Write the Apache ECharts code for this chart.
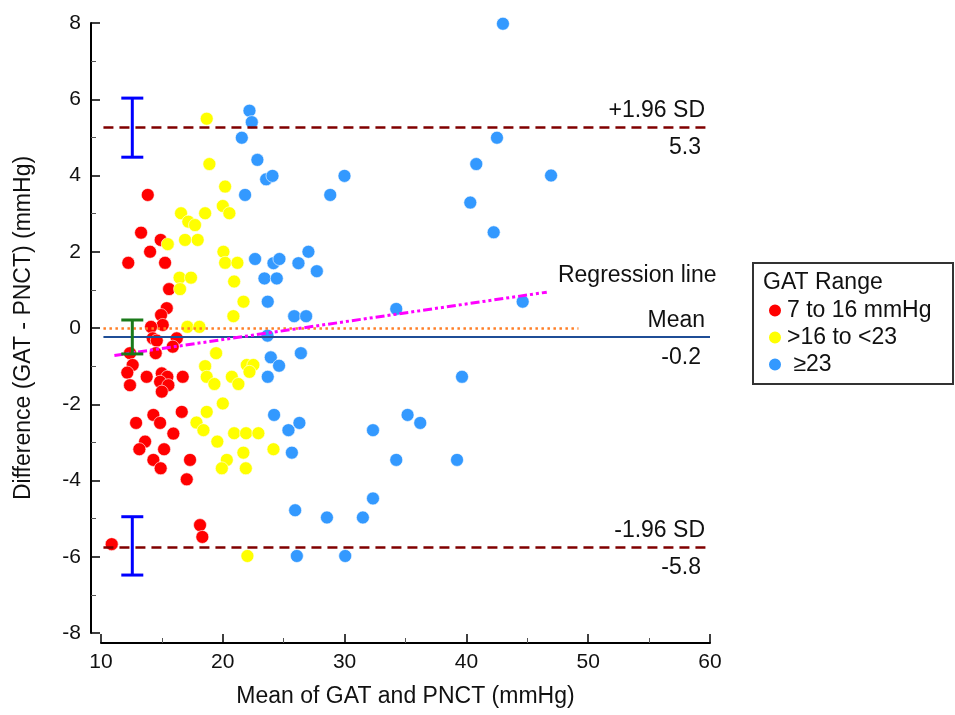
<!DOCTYPE html>
<html>
<head>
<meta charset="utf-8">
<script src="https://cdn.jsdelivr.net/npm/echarts@6/dist/echarts.min.js"></script>
<style>
html, body { margin: 0; padding: 0; background: #fff; }
#chart { width: 955px; height: 715px; }
</style>
</head>
<body>
<div id="chart"></div>
<script>
// GAT range groups: [mean of GAT and PNCT, difference GAT - PNCT]
const lowGat = [
  [13.84, 3.49], [13.29, 2.50], [14.9, 2.31], [14.03, 2.0], [12.24, 1.71], [15.26, 1.71],
  [15.59, 1.02], [15.4, 0.52], [14.93, 0.34], [15.07, 0.08], [14.11, 0.03], [14.25, -0.27],
  [14.58, -0.33], [16.22, -0.27], [15.89, -0.49], [14.49, -0.66], [12.38, -0.66], [12.6, -0.97],
  [12.16, -1.17], [12.38, -1.50], [13.75, -1.28], [14.99, -1.19], [15.45, -1.28], [14.85, -1.41],
  [15.53, -1.50], [14.99, -1.67], [16.71, -1.28], [12.88, -2.49], [14.3, -2.28], [14.85, -2.49],
  [16.63, -2.20], [15.94, -2.77], [13.62, -2.98], [13.15, -3.18], [15.18, -3.18], [14.3, -3.46],
  [14.9, -3.68], [17.31, -3.46], [17.04, -3.97], [18.13, -5.17], [18.32, -5.48], [10.88, -5.67]
]
const midGat = [
  [18.68, 5.49], [18.9, 4.30], [20.19, 3.71], [20.0, 3.20], [20.54, 3.01], [18.55, 3.01],
  [16.57, 3.01], [17.17, 2.79], [17.72, 2.70], [16.9, 2.31], [17.94, 2.31], [15.48, 2.20],
  [20.05, 2.0], [20.19, 1.71], [21.2, 1.71], [16.45, 1.32], [17.39, 1.32], [20.93, 1.22],
  [16.49, 1.02], [21.7, 0.69], [20.87, 0.31], [17.09, 0.03], [18.08, 0.03], [19.45, -0.66],
  [18.55, -1.0], [18.68, -1.28], [19.31, -1.47], [20.74, -1.28], [21.28, -1.47], [21.97, -0.97],
  [22.51, -0.97], [22.19, -1.15], [18.68, -2.20], [17.84, -2.48], [20.0, -1.98], [18.41, -2.68],
  [19.55, -2.98], [20.93, -2.76], [21.91, -2.76], [22.92, -2.76], [21.69, -3.27], [20.33, -3.46],
  [19.92, -3.68], [21.89, -3.68], [22.02, -5.98], [24.16, -3.18]
]
const highGat = [
  [22.19, 5.70], [22.38, 5.40], [21.56, 4.99], [22.84, 4.41], [23.56, 3.90], [24.08, 3.99],
  [29.99, 3.99], [28.82, 3.49], [21.83, 3.49], [22.65, 1.81], [24.16, 1.70], [24.65, 1.81],
  [26.21, 1.70], [27.03, 2.0], [27.72, 1.49], [23.42, 1.30], [24.43, 1.30], [23.69, 0.69],
  [25.86, 0.31], [26.84, 0.31], [23.67, -0.20], [26.41, -0.66], [23.94, -0.77], [24.62, -0.99],
  [23.69, -1.28], [24.21, -2.28], [25.39, -2.68], [26.29, -2.49], [25.67, -3.27], [32.33, -2.68],
  [32.33, -4.47], [31.5, -4.97], [28.55, -4.97], [25.94, -4.78], [26.08, -5.98], [30.05, -5.98],
  [43.0, 7.98], [42.51, 4.99], [40.81, 4.30], [46.95, 4.0], [40.32, 3.29], [42.24, 2.51],
  [34.24, 0.50], [44.62, 0.69], [39.64, -1.28], [35.17, -2.28], [36.21, -2.49], [34.24, -3.46],
  [39.23, -3.46]
]
const groupNames = ['7 to 16 mmHg', '>16 to <23', ' ≥23']
const groupColors = ['#ff0000', '#ffff00', '#3399ff']

// Bland-Altman reference lines
const upperLoA = 5.27
const meanDiff = -0.24
const lowerLoA = -5.75
const upperLabel = '5.3'
const meanLabel = '-0.2'
const lowerLabel = '-5.8'
const lineStart = 10.2
const lineEnd = 60
const zeroLineEnd = 49.2
const regStart = [11.1, -0.72]
const regEnd = [46.6, 0.94]
const regLabelAt = [60, 1.37]

// confidence intervals drawn at the left: [x, low, high]
const ciLoA = [[12.57, 4.48, 6.03], [12.57, -6.48, -4.95]]
const ciMean = [[12.57, -0.68, 0.21]]

const FONT = "'Liberation Sans', Arial, sans-serif"
const TXT = 23

const chart = echarts.init(document.getElementById('chart'))

function ciSeries(name, data, color) {
  return {
    name: name,
    type: 'custom',
    z: 6,
    silent: true,
    data: data,
    renderItem: (params, api) => {
      const x = api.value(0)
      const lo = api.coord([x, api.value(1)])
      const hi = api.coord([x, api.value(2)])
      const half = 11
      const style = { stroke: color, lineWidth: 3 }
      return {
        type: 'group',
        children: [
          { type: 'line', shape: { x1: lo[0], y1: lo[1], x2: hi[0], y2: hi[1] }, style },
          { type: 'line', shape: { x1: lo[0] - half, y1: lo[1], x2: lo[0] + half, y2: lo[1] }, style },
          { type: 'line', shape: { x1: hi[0] - half, y1: hi[1], x2: hi[0] + half, y2: hi[1] }, style }
        ]
      }
    }
  }
}

function hLine(y, x0, x1, lineStyle, top, bottom) {
  const items = [[
    { coord: [x0, y], lineStyle, label: top ? { show: true, position: 'insideEndTop', formatter: top, distance: 5 } : { show: false } },
    { coord: [x1, y] }
  ]]
  if (bottom) {
    items.push([
      { coord: [x0, y + 0.0001], lineStyle: { color: 'rgba(0,0,0,0)', width: 0 }, label: { show: true, position: 'insideEndBottom', formatter: bottom, distance: 9 } },
      { coord: [x1, y + 0.0001] }
    ])
  }
  return items
}

const sdStyle = { color: '#800000', width: 2.5, type: [10, 6] }
const meanStyle = { color: '#1f4e96', width: 2, type: 'solid' }
const zeroStyle = { color: '#ff7f27', width: 2.5, type: [2.5, 3.5] }
const regStyle = { color: '#ff00ff', width: 3, type: [9, 3, 3, 3, 3, 3] }

chart.setOption({
  animation: false,
  textStyle: { fontFamily: FONT },
  grid: { left: 101, right: 245, top: 23, bottom: 82 },
  xAxis: {
    type: 'value',
    min: 10, max: 60, interval: 10,
    offset: 10,
    name: 'Mean of GAT and PNCT (mmHg)',
    nameLocation: 'middle',
    nameGap: 42,
    nameTextStyle: { fontSize: TXT, color: '#111', fontFamily: FONT },
    axisLine: { onZero: false, lineStyle: { color: '#000', width: 2 } },
    axisTick: { inside: true, length: 9, lineStyle: { color: '#000', width: 1.5 } },
    minorTick: { show: true, splitNumber: 2, length: 5, lineStyle: { color: '#555', width: 1 } },
    axisLabel: { fontSize: 21, color: '#111', margin: 9, fontFamily: FONT },
    splitLine: { show: false }
  },
  yAxis: {
    type: 'value',
    min: -8, max: 8, interval: 2,
    offset: 10,
    name: 'Difference (GAT - PNCT) (mmHg)',
    nameLocation: 'middle',
    nameGap: 56,
    nameTextStyle: { fontSize: TXT, color: '#111', fontFamily: FONT },
    axisLine: { onZero: false, lineStyle: { color: '#000', width: 2 } },
    axisTick: { inside: true, length: 9, lineStyle: { color: '#000', width: 1.5 } },
    minorTick: { show: true, splitNumber: 2, length: 5, lineStyle: { color: '#555', width: 1 } },
    axisLabel: { fontSize: 21, color: '#111', margin: 10, fontFamily: FONT },
    splitLine: { show: false }
  },
  legend: {
    orient: 'vertical',
    left: 762,
    top: 294,
    itemWidth: 14,
    itemHeight: 14,
    itemGap: 4,
    icon: 'circle',
    data: groupNames,
    textStyle: { fontSize: TXT, color: '#111', fontFamily: FONT }
  },
  graphic: [
    { type: 'rect', left: 752, top: 262, shape: { width: 200, height: 121 }, style: { fill: '#fff', stroke: '#333', lineWidth: 2 }, z: -1 },
    { type: 'text', left: 763, top: 271, style: { text: 'GAT Range', font: TXT + 'px ' + FONT, fill: '#111' } }
  ],
  series: [
    ...[lowGat, midGat, highGat].map((d, i) => ({
      name: groupNames[i],
      type: 'scatter',
      symbolSize: 13,
      z: 3,
      itemStyle: { color: groupColors[i], borderColor: '#fff', borderWidth: 0.6, opacity: 1 },
      data: d
    })),
    {
      name: 'ref',
      type: 'line',
      data: [],
      z: 5,
      markLine: {
        silent: true,
        symbol: 'none',
        label: { fontSize: TXT, color: '#111', fontFamily: FONT },
        data: [
          ...hLine(upperLoA, lineStart, lineEnd, sdStyle, '+1.96 SD', upperLabel),
          ...hLine(lowerLoA, lineStart, lineEnd, sdStyle, '-1.96 SD', lowerLabel),
          ...hLine(meanDiff, lineStart, lineEnd, meanStyle, 'Mean', meanLabel),
          ...hLine(0, lineStart, zeroLineEnd, zeroStyle, null, null),
          [{ coord: regStart, lineStyle: regStyle, label: { show: false } }, { coord: regEnd }]
        ]
      },
      markPoint: {
        silent: true,
        symbol: 'circle',
        symbolSize: 1,
        itemStyle: { color: 'rgba(0,0,0,0)' },
        data: [{
          coord: regLabelAt,
          label: { show: true, position: 'left', distance: 0, offset: [7, 0], formatter: 'Regression line', fontSize: TXT, color: '#111', fontFamily: FONT }
        }]
      }
    },
    ciSeries('ci-loa', ciLoA, '#0000ff'),
    ciSeries('ci-mean', ciMean, '#1a7a1a')
  ]
})
</script>
</body>
</html>
